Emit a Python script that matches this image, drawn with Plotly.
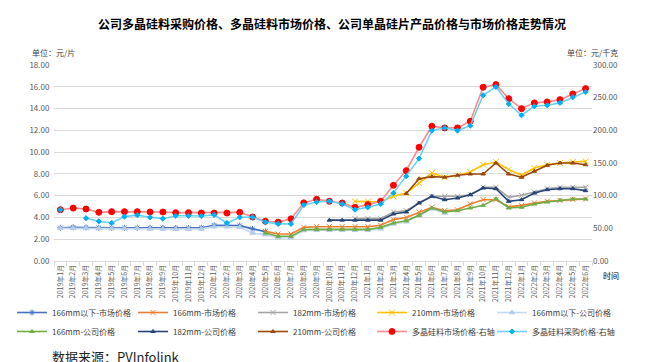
import plotly.graph_objects as go

N = None
months = [f"{y}年{m}月" for y in (2019, 2020, 2021) for m in range(1, 13)] + [f"2022年{m}月" for m in range(1, 7)]

# left axis (元/片)
p166_below_mkt = [3.05, 3.1, 3.08, 3.05, 3.05, 3.05, 3.05, 3.05, 3.05, 3.03, 3.03, 3.05, 3.28, 3.28, 3.25, 2.95, 2.7] + [N] * 25
p166_mkt = [N] * 16 + [2.72, 2.48, 2.48, 3.09, 3.15, 3.15, 3.15, 3.15, 3.15, 3.28, 3.8, 4.0, 4.5, 4.93, 4.62, 4.7, 5.23, 5.63, 5.63, 4.97, 5.11, 5.33, 5.48, 5.57, 5.65, 5.7]
p182_mkt = [N] * 23 + [3.89, 3.89, 3.89, 4.5, 4.62, 5.33, 5.94, 5.94, 5.94, 6.09, 6.77, 6.77, 5.85, 6.03, 6.34, 6.64, 6.77, 6.77, 6.77]
p210_mkt = [N] * 23 + [5.48, 5.48, 5.42, 5.94, 6.24, 7.16, 8.08, 7.69, 7.87, 8.17, 8.84, 9.09, 8.39, 7.87, 8.54, 8.84, 9.0, 9.09, 9.15]
p166_below_co = [3.0, 3.0, 3.0, 3.0, 2.98, 3.0, 3.0, 2.95, 2.93, 2.93, 2.93, 2.95, 3.15, 3.15, 3.1, 2.57, 2.42, 2.15, 2.15, 2.8, 2.82, 2.82, 2.82, 2.82, 2.82, 2.95, 3.4, 3.6, 4.15, 4.8, 4.4] + [N] * 11
p166_co = [N] * 16 + [2.57, 2.27, 2.27, 2.88, 2.9, 2.9, 2.9, 2.9, 2.9, 3.09, 3.49, 3.7, 4.2, 4.87, 4.5, 4.62, 4.87, 5.11, 5.72, 4.87, 4.93, 5.23, 5.42, 5.57, 5.69, 5.69]
p182_co = [N] * 21 + [3.75, 3.75, 3.75, 3.75, 3.75, 4.32, 4.5, 5.33, 5.94, 5.63, 5.78, 6.09, 6.7, 6.64, 5.48, 5.63, 6.24, 6.55, 6.64, 6.64, 6.46]
p210_co = [N] * 27 + [6.2, 7.56, 7.75, 7.69, 7.87, 7.99, 7.99, 9.0, 7.99, 7.69, 8.24, 8.79, 9.0, 9.0, 8.84]

# right axis (元/千克)
poly_mkt = [78.5, 81, 79.6, 74.5, 75.5, 75.5, 75.5, 75, 75, 74,
            74, 73.4, 73.4, 73.4, 74.5, 67.4, 60.8, 59.5, 64.5, 89,
            94.5, 91.4, 88.8, 82.2, 86.2, 91.4, 115.9, 138.3, 174.1, 206.3,
            203.7, 203.7, 213.9, 266, 270, 248.5, 233.2, 242, 243.5, 247,
            255.7, 263.9]
poly_buy = [78.5, N, 65.5, 60.7, 58.2, 67.9, 70.2, 66.9, 64.8, 69.2,
            69.2, 68.9, 70.6, 58.2, 66.9, 67.2, 59.5, 56.8, 56.8, 85.8,
            90.3, 91.4, 87.3, 78.6, 82.2, 87.3, 104.1, 129.7, 156.7, 199.6,
            203.7, 199.6, 207.2, 253.7, 266.5, 240.4, 223.1, 236.9, 238.4, 242,
            250.7, 258.8]

FONT = "Noto Sans CJK SC"
LEG = ["legend", "legend2", "legend3", "legend4", "legend5"]
fig = go.Figure()

def add(name, y, line_color, marker_color, symbol, msize, col, axis="y", width=1.6):
    fig.add_trace(go.Scatter(
        x=months, y=y, name=name, mode="lines+markers", yaxis=axis, legend=LEG[col],
        line=dict(color=line_color, width=width),
        marker=dict(symbol=symbol, size=msize, color=marker_color,
                    line=dict(color=marker_color, width=1)),
    ))

add("166mm以下-市场价格", p166_below_mkt, "#4472C4", "#4472C4", "asterisk-open", 5, 0)
add("166mm-市场价格", p166_mkt, "#ED7D31", "#ED7D31", "x-thin-open", 5, 1)
add("182mm-市场价格", p182_mkt, "#A5A5A5", "#A5A5A5", "x-thin-open", 5, 2)
add("210mm-市场价格", p210_mkt, "#FFC000", "#FFC000", "x-thin-open", 6, 3)
add("166mm以下-公司价格", p166_below_co, "#C5DAF0", "#B4CDEA", "triangle-up", 5, 4)
add("166mm-公司价格", p166_co, "#70AD47", "#70AD47", "triangle-up", 4, 0)
add("182mm-公司价格", p182_co, "#264478", "#264478", "triangle-up", 4, 1)
add("210mm-公司价格", p210_co, "#9E480E", "#9E480E", "triangle-up", 4, 2)
add("多晶硅料市场价格-右轴", poly_mkt, "#FF8A8A", "#FF0000", "circle", 6, 3, axis="y2")
add("多晶硅料采购价格-右轴", poly_buy, "#6BD2F5", "#00B0F0", "diamond", 4, 4, axis="y2")

legend_x = [4, 125, 245, 364, 484]
legends = {}
for k, name in enumerate(LEG):
    legends[name] = dict(orientation="v", xref="container", yref="container",
                         x=legend_x[k] / 648, xanchor="left", y=1 - 290 / 362, yanchor="top",
                         itemwidth=30, font=dict(size=8, color="#404040"),
                         tracegroupgap=0, bgcolor="rgba(0,0,0,0)")

L, R, T, B = 46, 64, 57, 109
PW, PH = 648 - L - R, 362 - T - B

def px(x):
    return (x - L) / PW

def py(y):
    return (362 - B - y) / PH

fig.update_layout(
    width=648, height=362,
    margin=dict(l=L, r=R, t=T, b=B, autoexpand=False),
    paper_bgcolor="white", plot_bgcolor="white",
    font=dict(family=FONT, size=8, color="#595959"),
    title=dict(text="<b>公司多晶硅料采购价格、多晶硅料市场价格、公司单晶硅片产品价格与市场价格走势情况</b>",
               x=0.5, xanchor="center", y=1 - 17 / 362, yanchor="middle",
               font=dict(family=FONT, size=12, color="#000000")),
    xaxis=dict(type="category", range=[-0.5, len(months) - 0.5], tickangle=-90,
               tickfont=dict(size=7, color="#595959"),
               showgrid=False, showline=True, linecolor="#D9D9D9", automargin=False,
               ticks="outside", tickson="boundaries", ticklen=4, tickcolor="#D9D9D9"),
    yaxis=dict(range=[0, 18], dtick=2, tickformat=".2f", showgrid=True, gridcolor="#D9D9D9",
               zeroline=False, showline=False, ticks="outside", ticklen=2, tickcolor="rgba(0,0,0,0)",
               tickfont=dict(size=8, color="#595959"), automargin=False),
    yaxis2=dict(range=[0, 300], dtick=50, tickformat=".2f", overlaying="y", side="right",
                showgrid=False, zeroline=False, showline=False, automargin=False,
                tickfont=dict(size=8, color="#595959")),
    showlegend=True,
    **legends,
    annotations=[
        dict(text="单位：元/片", xref="paper", yref="paper", x=px(22), y=py(44),
             xanchor="left", yanchor="middle", showarrow=False,
             font=dict(size=8, color="#404040")),
        dict(text="单位：元/千克", xref="paper", yref="paper", x=px(612), y=py(44),
             xanchor="right", yanchor="middle", showarrow=False,
             font=dict(size=8, color="#404040")),
        dict(text="时间", xref="paper", yref="paper", x=px(593), y=py(267),
             xanchor="left", yanchor="middle", showarrow=False,
             font=dict(size=8, color="#000000")),
        dict(text="数据来源：PVInfolink", xref="paper", yref="paper", x=px(42), y=py(348),
             xanchor="left", yanchor="middle", showarrow=False,
             font=dict(size=13, color="#222222")),
    ],
)

fig.write_html("out.html")
